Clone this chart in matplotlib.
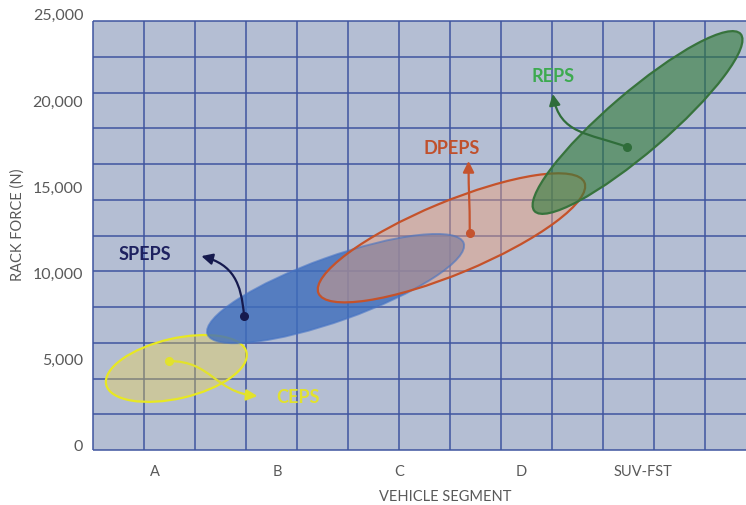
import numpy as np
import matplotlib
matplotlib.use("Agg")
import matplotlib.pyplot as plt
from matplotlib.patches import Ellipse, FancyArrowPatch, Rectangle
from matplotlib.path import Path
from matplotlib.transforms import IdentityTransform

plt.rcParams['font.family'] = ['Lato', 'DejaVu Sans']

# ---- data -------------------------------------------------------------
segments = ["A", "B", "C", "D", "SUV-FST"]
force_ticks = [0, 5000, 10000, 15000, 20000, 25000]

systems = ["CEPS", "SPEPS", "DPEPS", "REPS"]
# long-axis ends of each operating envelope (segment position, rack force in N)
seg_lo = [-0.40, 0.43, 1.34, 3.11]
force_lo = [3480, 6410, 8790, 13560]
seg_hi = [0.75, 2.53, 3.52, 4.80]
force_hi = [5360, 11700, 15210, 23830]
# reference point of each callout
point_seg = [0.115, 0.73, 2.58, 3.87]
point_force = [4850, 7490, 12310, 17270]

# ---- styling ----------------------------------------------------------
BG = '#B4BED3'
GRID = '#3F559F'
TICK = '#595959'
style = {
    "CEPS":  dict(face=(0.96, 0.84, 0.24, 0.35), edge='#E8E822', half=30,
                  text='#E2E22C', arrow='#E2E22C',
                  tip=(0.84, 2820), ang=(0, -5), label=(1.17, 2820)),
    "SPEPS": dict(face=(0.243, 0.427, 0.737, 0.80), edge=(0.27, 0.45, 0.77, 0.6), half=32,
                  text='#1E2160', arrow='#161A4E',
                  tip=(0.38, 10940), ang=(95, 165), label=(-0.08, 11120)),
    "DPEPS": dict(face=(0.94, 0.63, 0.47, 0.45), edge='#C5522A', half=36,
                  text='#C0502C', arrow='#C5532E',
                  tip=(2.57, 16460), ang=(90, 90), label=(2.43, 17270)),
    "REPS":  dict(face=(0.20, 0.49, 0.235, 0.62), edge='#37733C', half=30,
                  text='#3DAA50', arrow='#2F6D3A',
                  tip=(3.26, 20350), ang=(160, 100), label=(3.26, 21450)),
}

W, H, DPI = 746, 506, 100
fig = plt.figure(figsize=(W / DPI, H / DPI), dpi=DPI)
ax_h = 436.15
ax = fig.add_axes([93 / W, (H - 451) / H, 653 / W, ax_h / H])
ax.set_xlim(-0.508, 4.844)
ax.set_ylim(-313, 25000)
ax.set_autoscale_on(False)
ax.set_facecolor('none')
for s in ax.spines.values():
    s.set_visible(False)

# panel background and table-like grid
top = 429 / ax_h
ax.add_patch(Rectangle((0, 0), 1, top, transform=ax.transAxes,
                       facecolor=BG, edgecolor='none', zorder=0))
gkw = dict(color=GRID, lw=1.1, transform=ax.transAxes, zorder=1,
           clip_on=False, solid_capstyle='butt')
for k in range(13):
    fx = 51 * k / 653
    ax.plot([fx, fx], [0, top], **gkw)
for k in range(13):
    fy = top * k / 12
    ax.plot([0, 1], [fy, fy], **gkw)

# ---- axes text ----------------------------------------------------------
ax.set_xticks(range(len(segments)), segments)
ax.set_yticks(force_ticks, [f"{v:,}" for v in force_ticks])
ax.tick_params(length=0, colors=TICK)
ax.tick_params(axis='y', labelsize=11.5, pad=7)
ax.tick_params(axis='x', labelsize=10.5, pad=10)
ax.set_xlabel("VEHICLE SEGMENT", fontsize=10.5, color=TICK)
ax.set_ylabel("RACK FORCE (N)", fontsize=10.5, color=TICK)
ax.xaxis.set_label_coords(0.539, -0.1055)
ax.xaxis.label.set_va('center')
ax.yaxis.set_label_coords(-0.115, 0.518)
ax.yaxis.label.set_va('center')
ax.yaxis.label.set_ha('center')


def envelope(i, face, edge, lw, z):
    p0 = ax.transData.transform((seg_lo[i], force_lo[i]))
    p1 = ax.transData.transform((seg_hi[i], force_hi[i]))
    d = p1 - p0
    e = Ellipse((p0 + p1) / 2, np.hypot(*d), 2 * style[systems[i]]['half'],
                angle=np.degrees(np.arctan2(d[1], d[0])),
                facecolor=face, edgecolor=edge, lw=lw,
                transform=IdentityTransform(), zorder=z)
    ax.add_patch(e)


def callout(i):
    st = style[systems[i]]
    p0 = ax.transData.transform((point_seg[i], point_force[i]))
    p3 = ax.transData.transform(st['tip'])
    h = 0.45 * np.hypot(*(p3 - p0))
    a0, a1 = np.radians(st['ang'])
    verts = [p0, p0 + h * np.array([np.cos(a0), np.sin(a0)]),
             p3 - h * np.array([np.cos(a1), np.sin(a1)]), p3]
    path = Path(verts, [Path.MOVETO, Path.CURVE4, Path.CURVE4, Path.CURVE4])
    ax.add_patch(FancyArrowPatch(path=path,
                                 arrowstyle='-|>,head_length=0.6,head_width=0.3',
                                 mutation_scale=11, lw=1.6, color=st['arrow'],
                                 transform=IdentityTransform(), zorder=9))
    ax.plot(point_seg[i], point_force[i], 'o', ms=5.5, color=st['arrow'], zorder=10)
    ax.text(*st['label'], systems[i], ha='center', va='center',
            fontsize=13, fontweight='bold', color=st['text'], zorder=10)


iC, iS, iD, iR = range(4)
envelope(iC, style["CEPS"]['face'], style["CEPS"]['edge'], 1.6, 2)
envelope(iS, style["SPEPS"]['face'], 'none', 0, 3)
envelope(iD, style["DPEPS"]['face'], 'none', 0, 4)
envelope(iS, 'none', style["SPEPS"]['edge'], 1.4, 5)
envelope(iD, 'none', style["DPEPS"]['edge'], 1.6, 6)
envelope(iR, style["REPS"]['face'], style["REPS"]['edge'], 1.6, 7)

for i in range(len(systems)):
    callout(i)

fig.savefig("out.png", dpi=DPI)
